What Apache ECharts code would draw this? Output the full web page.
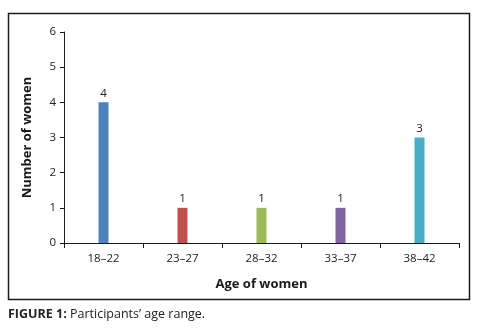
<!DOCTYPE html>
<html>
<head>
<meta charset="utf-8">
<script src="https://cdn.jsdelivr.net/npm/echarts@6/dist/echarts.min.js"></script>
<style>
  html, body { margin: 0; padding: 0; background: #fff; }
  #chart { width: 485px; height: 333px; }
</style>
</head>
<body>
<div id="chart"></div>
<script type="text/javascript">
// age groups and counts
var ageGroups = ['18–22', '23–27', '28–32', '33–37', '38–42'];
var counts = [4, 1, 1, 1, 3];
var barColors = ['#4F81BD', '#C0504D', '#9BBB59', '#8064A2', '#4BACC6'];

var chart = echarts.init(document.getElementById('chart'));

var barData = [];
for (var i = 0; i < counts.length; i++) {
    barData.push({ value: counts[i], itemStyle: { color: barColors[i] } });
}

var option = {
    animation: false,
    textStyle: { fontFamily: 'Open Sans' },
    grid: { left: 64, right: 26, top: 32, bottom: 90, containLabel: false },
    graphic: [
        {
            type: 'rect',
            shape: { x: 8.5, y: 13.5, width: 461, height: 286 },
            style: { fill: 'none', stroke: '#1a1a1a', lineWidth: 1.5 },
            silent: true
        },
        {
            type: 'text',
            left: 8, top: 308,
            style: {
                text: '{b|FIGURE 1:} Participants’ age range.',
                rich: {
                    b: { fontWeight: 'bold', fontSize: 12.5, fontFamily: 'Open Sans', fill: '#222' }
                },
                fontSize: 12.5, fontFamily: 'Open Sans', fill: '#222'
            }
        }
    ],
    xAxis: {
        type: 'category',
        data: ageGroups,
        name: 'Age of women',
        nameLocation: 'middle',
        nameGap: 35,
        nameTextStyle: { fontWeight: 'bold', fontSize: 13, color: '#1a1a1a' },
        axisLine: { lineStyle: { color: '#1a1a1a', width: 1 } },
        axisTick: { show: true, length: 5, alignWithLabel: false, lineStyle: { color: '#1a1a1a' } },
        axisLabel: { color: '#222', fontSize: 11.5, margin: 10 }
    },
    yAxis: {
        type: 'value',
        min: 0, max: 6, interval: 1,
        name: 'Number of women',
        nameLocation: 'middle',
        nameGap: 30,
        nameTextStyle: { fontWeight: 'bold', fontSize: 13, color: '#1a1a1a' },
        axisLine: { show: true, lineStyle: { color: '#1a1a1a', width: 1 } },
        axisTick: { show: true, length: 4, lineStyle: { color: '#1a1a1a' } },
        axisLabel: { color: '#222', fontSize: 11.5, margin: 8 },
        splitLine: { show: false }
    },
    series: [
        {
            type: 'bar',
            data: barData,
            barWidth: 10,
            label: { show: true, position: 'top', color: '#222', fontSize: 11.5, distance: 3 }
        }
    ]
};

chart.setOption(option);
</script>
</body>
</html>
